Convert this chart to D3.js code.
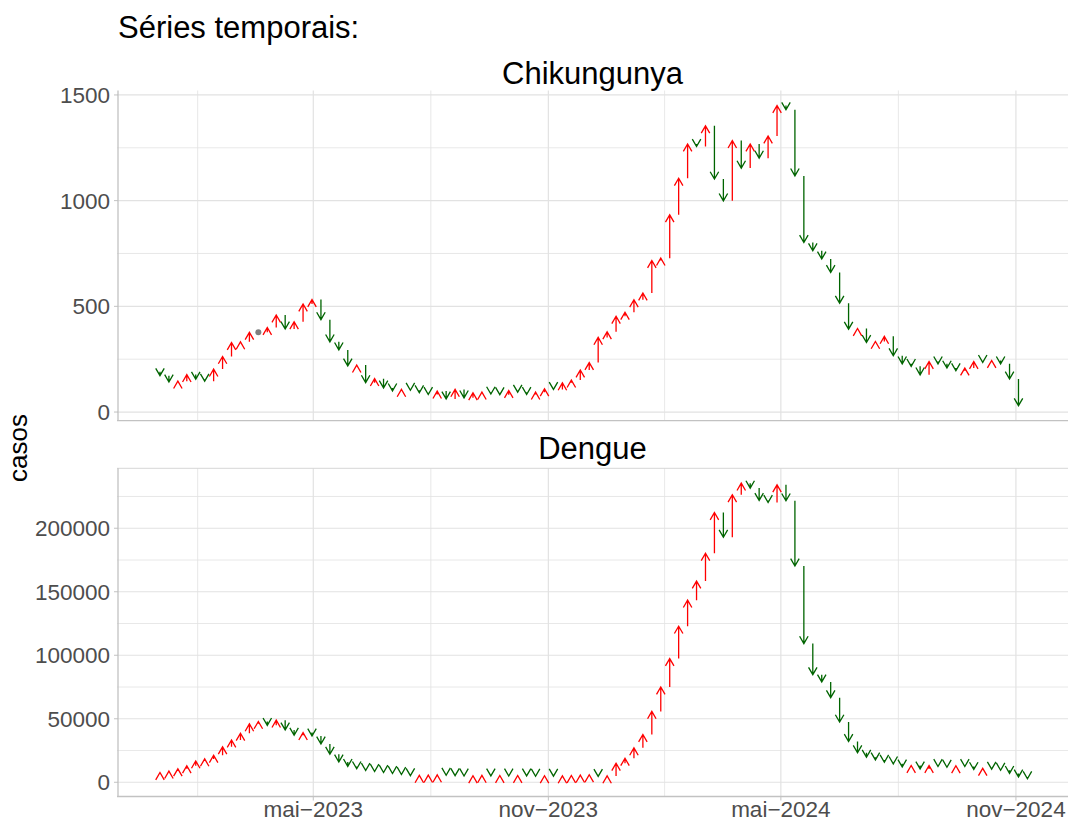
<!DOCTYPE html>
<html>
<head>
<meta charset="utf-8">
<script src="https://cdnjs.cloudflare.com/ajax/libs/d3/7.8.5/d3.min.js"></script>
<style>
    body { margin: 0; background: #fff; }
    text { font-family: "Liberation Sans", Arial, sans-serif; }
</style>
</head>
<body>
<div class="chartContainer"></div>
<script>
// weekly case counts, first entry = week before the first arrow
var firstWeek = "2023-01-01";
var diseases = ["Chikungunya", "Dengue"];

var chikungunya = [190,
    172, 142, 146, 177, 155, 146, 203, 263, 329, 332,
    377, 377, 400, 459, 393, 427, 511, 532, 437, 332,
    294, 218, 222, 139, 158, 114, 100, 107, 103, 91,
    83, 99, 62, 107, 67, 91, 94, 85, 82, 102,
    94, 83, 94, 110, 107, 138, 151, 199, 234, 353,
    380, 453, 472, 531, 563, 717, 728, 933, 1106, 1268,
    1256, 1354, 1102, 999, 1284, 1154, 1268, 1201, 1306, 1450,
    1430, 1117, 802, 763, 724, 660, 515, 392, 395, 329,
    334, 358, 266, 228, 216, 176, 239, 228, 208, 195,
    208, 239, 235, 244, 228, 156, 30];

var dengue = [6500,
    7700, 8800, 10600, 13000, 16800, 18400, 21300, 27900, 33300, 38600,
    46000, 47900, 44800, 48900, 41200, 37000, 39100, 36400, 30100, 22100,
    16000, 12500, 10600, 9300, 8500, 7700, 6900, 6100, 5200, 5400,
    5600, 5800, 5500, 5200, 4900, 5100, 5400, 5000, 5300, 4900,
    5300, 5000, 4700, 5100, 4800, 5000, 5300, 5600, 5900, 4600,
    5000, 15000, 18900, 27100, 37600, 55800, 75000, 97400, 122900, 143400,
    158400, 180300, 212400, 192900, 226400, 235500, 231600, 221900, 220300, 234200,
    221600, 170300, 109200, 84700, 79000, 66600, 47400, 32100, 23200, 19700,
    17600, 15800, 14500, 12000, 13200, 10500, 13200, 12400, 11800, 13000,
    12400, 10000, 11000, 10300, 9500, 7000, 4200, 2800];

var xTickDates  = ["2023-05-01", "2023-11-01", "2024-05-01", "2024-11-01"];
var xTickLabels = ["mai\u22122023", "nov\u22122023", "mai\u22122024", "nov\u22122024"];
var yTicksChik   = [0, 500, 1000, 1500];
var yTicksDengue = [0, 50000, 100000, 150000, 200000];
var yLimits = [[-41, 1521], [-11200, 247200]];

function timeSeriesChart()
{
    var width = 1068, height = 823;
    var left = 117;
    var panels = [
        {name: diseases[0], values: chikungunya, ticks: yTicksChik, limits: yLimits[0], top: 90.5, bottom: 420.7, stripY: 84},
        {name: diseases[1], values: dengue, ticks: yTicksDengue, limits: yLimits[1], top: 468.3, bottom: 796.5, stripY: 459}
    ];

    var upColor = "#ff0000", downColor = "#006400", gridColor = "#e2e2e2", axisColor = "#c2c2c2";
    var headLen = 8.5, headAngle = Math.PI / 6;

    var canvas = d3.select(".chartContainer")
        .append("svg")
        .attr("width", width)
        .attr("height", height);

    function weekDate(i) {
        return d3.utcDay.offset(new Date(firstWeek), 7 * i);
    }

    // shared x scale, ggplot-like 5% expansion
    var n = d3.max(panels, function (p) { return p.values.length - 1; });
    var x0 = weekDate(0), x1 = weekDate(n - 1);
    var pad = (x1 - x0) * 0.05;
    var x = d3.scaleUtc()
        .domain([new Date(+x0 - pad), new Date(+x1 + pad)])
        .range([116.6, 1070.8]);

    var majorDates = xTickDates.map(function (d) { return new Date(d); });
    var ext = [d3.utcMonth.offset(majorDates[0], -6)].concat(majorDates, [d3.utcMonth.offset(majorDates[3], 6)]);
    var minorDates = d3.pairs(ext).map(function (p) { return new Date((+p[0] + +p[1]) / 2); })
        .filter(function (d) { return d >= x.domain()[0] && d <= x.domain()[1]; });

    canvas.append("text")
        .attr("x", 118)
        .attr("y", 38)
        .attr("font-size", 31)
        .text("Séries temporais:");

    panels.forEach(function (p, pi) {
        var y = d3.scaleLinear().domain(p.limits).range([p.bottom, p.top]);
        var step = p.ticks[1] - p.ticks[0];
        var minorY = p.ticks.map(function (t) { return t + step / 2; })
            .filter(function (t) { return t <= p.limits[1]; });

        var group = canvas.append("g");

        // grid
        group.selectAll(".ymin").data(minorY).enter().append("line")
            .attr("x1", left).attr("x2", width)
            .attr("y1", function (d) { return y(d); }).attr("y2", function (d) { return y(d); })
            .attr("stroke", gridColor).attr("stroke-width", 0.8);
        group.selectAll(".ymaj").data(p.ticks).enter().append("line")
            .attr("x1", left).attr("x2", width)
            .attr("y1", function (d) { return y(d); }).attr("y2", function (d) { return y(d); })
            .attr("stroke", gridColor).attr("stroke-width", 1.2);
        group.selectAll(".xmin").data(minorDates).enter().append("line")
            .attr("x1", function (d) { return x(d); }).attr("x2", function (d) { return x(d); })
            .attr("y1", p.top).attr("y2", p.bottom)
            .attr("stroke", gridColor).attr("stroke-width", 0.8);
        group.selectAll(".xmaj").data(majorDates).enter().append("line")
            .attr("x1", function (d) { return x(d); }).attr("x2", function (d) { return x(d); })
            .attr("y1", p.top).attr("y2", p.bottom)
            .attr("stroke", gridColor).attr("stroke-width", 1.2);
        if (pi == 1) {
            group.append("line")
                .attr("x1", left).attr("x2", width)
                .attr("y1", p.top).attr("y2", p.top)
                .attr("stroke", "#d6d6d6").attr("stroke-width", 1);
        }

        // axes
        group.append("line")
            .attr("x1", left + 1).attr("x2", left + 1)
            .attr("y1", p.top).attr("y2", p.bottom)
            .attr("stroke", axisColor).attr("stroke-width", 1.3);
        group.append("line")
            .attr("x1", left).attr("x2", width)
            .attr("y1", p.bottom).attr("y2", p.bottom)
            .attr("stroke", axisColor).attr("stroke-width", 1.3);
        group.selectAll(".ytick").data(p.ticks).enter().append("line")
            .attr("x1", left - 3).attr("x2", left + 1)
            .attr("y1", function (d) { return y(d); }).attr("y2", function (d) { return y(d); })
            .attr("stroke", axisColor).attr("stroke-width", 1);
        group.selectAll(".ylab").data(p.ticks).enter().append("text")
            .attr("x", 110)
            .attr("y", function (d) { return y(d); })
            .attr("dy", "0.36em")
            .attr("text-anchor", "end")
            .attr("font-size", 22.5)
            .attr("fill", "#4d4d4d")
            .text(function (d) { return d3.format("d")(d); });

        // strip title
        group.append("text")
            .attr("x", (left + width) / 2)
            .attr("y", p.stripY)
            .attr("text-anchor", "middle")
            .attr("font-size", 31)
            .text(p.name);

        // weekly change arrows
        var changes = p.values.slice(1).map(function (v, i) {
            return {date: weekDate(i), from: p.values[i], to: v};
        });

        var marks = group.selectAll(".arrow")
            .data(changes)
            .enter();

        marks.filter(function (d) { return d.to == d.from; })
            .append("circle")
            .attr("cx", function (d) { return x(d.date); })
            .attr("cy", function (d) { return y(d.to); })
            .attr("r", 3)
            .attr("fill", "#7f7f7f");

        marks.filter(function (d) { return d.to != d.from; })
            .append("path")
            .attr("d", function (d) {
                var cx = x(d.date), ya = y(d.from), yb = y(d.to);
                var dir = d.to > d.from ? 1 : -1;
                var hw = headLen * Math.sin(headAngle), hh = headLen * Math.cos(headAngle);
                return "M" + cx + "," + ya + "L" + cx + "," + yb +
                    "M" + (cx - hw) + "," + (yb + dir * hh) + "L" + cx + "," + yb + "L" + (cx + hw) + "," + (yb + dir * hh);
            })
            .attr("fill", "none")
            .attr("stroke", function (d) { return d.to > d.from ? upColor : downColor; })
            .attr("stroke-width", 1.3);
    });

    // x axis on the bottom panel
    var bottom = panels[1].bottom;
    canvas.selectAll(".xtick").data(majorDates).enter().append("line")
        .attr("x1", function (d) { return x(d); }).attr("x2", function (d) { return x(d); })
        .attr("y1", bottom).attr("y2", bottom + 4)
        .attr("stroke", axisColor).attr("stroke-width", 1);
    canvas.selectAll(".xlab").data(majorDates).enter().append("text")
        .attr("x", function (d) { return x(d); })
        .attr("y", 817)
        .attr("text-anchor", "middle")
        .attr("font-size", 22.5)
        .attr("fill", "#4d4d4d")
        .text(function (d, i) { return xTickLabels[i]; });

    canvas.append("text")
        .attr("transform", "translate(27,448) rotate(-90)")
        .attr("text-anchor", "middle")
        .attr("font-size", 26)
        .text("casos");
}

timeSeriesChart();
</script>
</body>
</html>
